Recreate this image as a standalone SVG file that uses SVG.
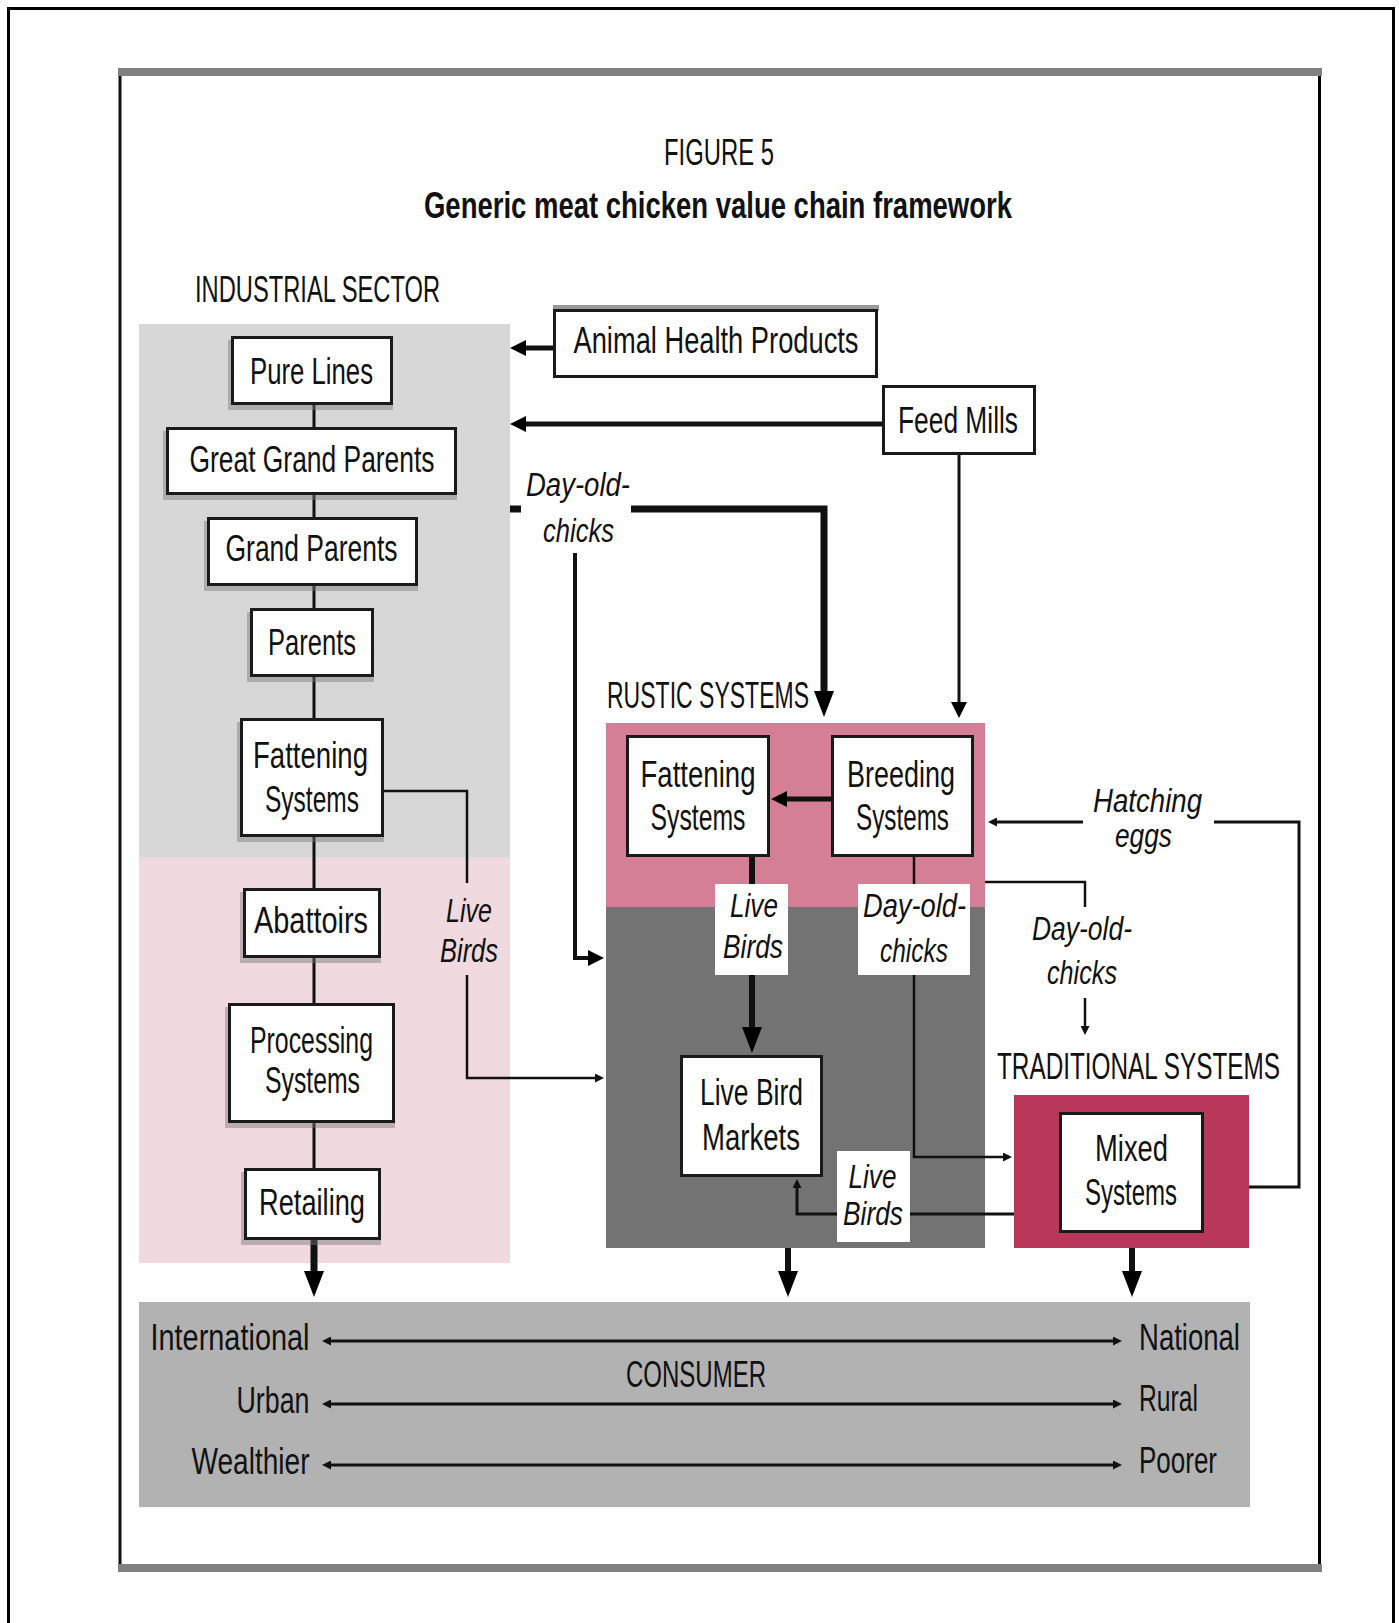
<svg xmlns="http://www.w3.org/2000/svg" width="1399" height="1623" viewBox="0 0 1399 1623">
<defs>
<style>
.t{font-family:"Liberation Sans Narrow","Liberation Sans",Arial,sans-serif;font-size:36px;fill:#111;text-anchor:middle}
.i{font-style:italic;font-size:34px}
.c{font-size:37px}
.box{fill:#fff;stroke:#1a1a1a;stroke-width:3}
.sh{fill:#777;opacity:.45}
.ln{fill:none;stroke:#111}
.lbl{fill:#fff}
</style>
<marker id="big" markerUnits="userSpaceOnUse" markerWidth="26" markerHeight="20" refX="13" refY="10" orient="auto"><path d="M0,0 L26,10 L0,20 z" fill="#000"/></marker>
<marker id="med" markerUnits="userSpaceOnUse" markerWidth="16" markerHeight="16" refX="8" refY="8" orient="auto"><path d="M0,0 L16,8 L0,16 z" fill="#000"/></marker>
<marker id="sm" markerUnits="userSpaceOnUse" markerWidth="9" markerHeight="9" refX="4.5" refY="4.5" orient="auto-start-reverse"><path d="M0,0 L9,4.5 L0,9 z" fill="#111"/></marker>
</defs>

<g id="frame">
<rect x="8.5" y="8.5" width="1385" height="1630" fill="none" stroke="#000" stroke-width="3"/>
<line x1="120" y1="72" x2="120" y2="1568" stroke="#111" stroke-width="3"/>
<line x1="1319.5" y1="72" x2="1319.5" y2="1568" stroke="#000" stroke-width="3"/>
<rect x="118" y="68" width="1204" height="8" fill="#808080"/>
<rect x="118" y="1564" width="1204" height="8" fill="#808080"/>
</g>

<g id="regions">
<rect x="139" y="324" width="371" height="533" fill="#d7d7d7"/>
<rect x="139" y="857" width="371" height="406" fill="#f0d9df"/>
<rect x="606" y="723" width="379" height="184" fill="#d47f95"/>
<rect x="606" y="907" width="379" height="341" fill="#737373"/>
<rect x="1014" y="1095" width="235" height="153" fill="#b9375b"/>
<rect x="139" y="1302" width="1111" height="205" fill="#b2b2b2"/>
</g>

<g id="headings">
<text class="t" x="719" y="165" font-size="35" textLength="110" lengthAdjust="spacingAndGlyphs">FIGURE 5</text>
<text class="t" x="718" y="218" font-weight="bold" textLength="588" lengthAdjust="spacingAndGlyphs">Generic meat chicken value chain framework</text>
<text class="t" x="317.5" y="302" textLength="245" lengthAdjust="spacingAndGlyphs">INDUSTRIAL SECTOR</text>
<text class="t" x="708" y="708" textLength="202" lengthAdjust="spacingAndGlyphs">RUSTIC SYSTEMS</text>
<text class="t" x="1138.5" y="1079" textLength="283" lengthAdjust="spacingAndGlyphs">TRADITIONAL SYSTEMS</text>
<text class="t" x="696" y="1387" textLength="140" lengthAdjust="spacingAndGlyphs">CONSUMER</text>
</g>

<g id="connectors">
<path class="ln" d="M314,405 V1168" stroke-width="3"/>
<path class="ln" d="M314,1240 V1284" stroke-width="7" marker-end="url(#big)"/>
<path class="ln" d="M553,348 H518" stroke-width="5" marker-end="url(#med)"/>
<path class="ln" d="M882,424 H518" stroke-width="5" marker-end="url(#med)"/>
<path class="ln" d="M959,455 V710" stroke-width="3" marker-end="url(#med)"/>
<path class="ln" d="M510,509 H521" stroke-width="7"/>
<path class="ln" d="M631,509 H824 V704" stroke-width="7" marker-end="url(#big)"/>
<path class="ln" d="M575,553 V958 H596" stroke-width="4" marker-end="url(#med)"/>
<path class="ln" d="M384,791 H467 V883 M467,975 V1078 H510" stroke="#555" stroke-width="2.5"/>
<path class="ln" d="M510,1078 H599.5" stroke="#999" stroke-width="2.5" marker-end="url(#sm)"/>
<path class="ln" d="M831,799 H779" stroke-width="5" marker-end="url(#med)"/>
<path class="ln" d="M752,857 V884 M752,975 V1040" stroke-width="6" marker-end="url(#big)"/>
<path class="ln" d="M914,857 V884 M914,975 V1157 H1007.5" stroke="#333" stroke-width="2.5" marker-end="url(#sm)"/>
<path class="ln" d="M1014,1214 H985" stroke="#aaa" stroke-width="3"/>
<path class="ln" d="M985,1214 H910 M837,1214 H797 V1183.5" stroke="#444" stroke-width="3" marker-end="url(#sm)"/>
<path class="ln" d="M1249,1187 H1299 V822 H1214 M1083,822 H992.5" stroke="#777" stroke-width="3" marker-end="url(#sm)"/>
<path class="ln" d="M985,882 H1085 V907 M1085,998 V1030.5" stroke="#666" stroke-width="2.5" marker-end="url(#sm)"/>
<path class="ln" d="M788,1248 V1284" stroke-width="6" marker-end="url(#big)"/>
<path class="ln" d="M1132,1248 V1284" stroke-width="6" marker-end="url(#big)"/>
<path class="ln" d="M326.5,1341 H1117.5" stroke="#444" stroke-width="3" marker-start="url(#sm)" marker-end="url(#sm)"/>
<path class="ln" d="M326.5,1404 H1117.5" stroke="#444" stroke-width="3" marker-start="url(#sm)" marker-end="url(#sm)"/>
<path class="ln" d="M326.5,1465 H1117.5" stroke="#444" stroke-width="3" marker-start="url(#sm)" marker-end="url(#sm)"/>
<rect class="lbl" x="715" y="884" width="73" height="91"/>
<rect class="lbl" x="858" y="884" width="112" height="91"/>
<rect class="lbl" x="837" y="1151" width="73" height="91"/>
<text class="t i" x="578" y="496" textLength="104" lengthAdjust="spacingAndGlyphs">Day-old-</text>
<text class="t i" x="578.5" y="542" textLength="71" lengthAdjust="spacingAndGlyphs">chicks</text>
<text class="t i" x="469" y="922" textLength="46" lengthAdjust="spacingAndGlyphs">Live</text>
<text class="t i" x="469" y="962" textLength="58" lengthAdjust="spacingAndGlyphs">Birds</text>
<text class="t i" x="754" y="917" textLength="48" lengthAdjust="spacingAndGlyphs">Live</text>
<text class="t i" x="753" y="958" textLength="60" lengthAdjust="spacingAndGlyphs">Birds</text>
<text class="t i" x="914.5" y="917" textLength="103" lengthAdjust="spacingAndGlyphs">Day-old-</text>
<text class="t i" x="914" y="962" textLength="68" lengthAdjust="spacingAndGlyphs">chicks</text>
<text class="t i" x="872.5" y="1188" textLength="48" lengthAdjust="spacingAndGlyphs">Live</text>
<text class="t i" x="873" y="1225" textLength="60" lengthAdjust="spacingAndGlyphs">Birds</text>
<text class="t i" x="1147.5" y="812" textLength="109" lengthAdjust="spacingAndGlyphs">Hatching</text>
<text class="t i" x="1143.5" y="847" textLength="57" lengthAdjust="spacingAndGlyphs">eggs</text>
<text class="t i" x="1082" y="940" textLength="100" lengthAdjust="spacingAndGlyphs">Day-old-</text>
<text class="t i" x="1082" y="984" textLength="70" lengthAdjust="spacingAndGlyphs">chicks</text>
</g>

<g id="node-pure-lines"><rect class="sh" x="228" y="340" width="165" height="70"/><rect class="box" x="232.5" y="337.5" width="159" height="66"/><text class="t" x="311.5" y="384" textLength="123" lengthAdjust="spacingAndGlyphs">Pure Lines</text></g>
<g id="node-great-grand-parents"><rect class="sh" x="163" y="431" width="294" height="69"/><rect class="box" x="167.5" y="428.5" width="288" height="65"/><text class="t" x="312" y="472" textLength="245" lengthAdjust="spacingAndGlyphs">Great Grand Parents</text></g>
<g id="node-grand-parents"><rect class="sh" x="204" y="521" width="214" height="70"/><rect class="box" x="208.5" y="518.5" width="208" height="66"/><text class="t" x="311.5" y="561" textLength="172" lengthAdjust="spacingAndGlyphs">Grand Parents</text></g>
<g id="node-parents"><rect class="sh" x="247" y="612" width="127" height="70"/><rect class="box" x="251.5" y="609.5" width="121" height="66"/><text class="t" x="312" y="655" textLength="88" lengthAdjust="spacingAndGlyphs">Parents</text></g>
<g id="node-fattening-industrial"><rect class="sh" x="237" y="722" width="147" height="120"/><rect class="box" x="241.5" y="719.5" width="141" height="116"/><text class="t" x="310.5" y="768" textLength="115" lengthAdjust="spacingAndGlyphs">Fattening</text><text class="t" x="312" y="812" textLength="94" lengthAdjust="spacingAndGlyphs">Systems</text></g>
<g id="node-abattoirs"><rect class="sh" x="240" y="892" width="141" height="71"/><rect class="box" x="244.5" y="889.5" width="135" height="67"/><text class="t" x="311" y="933" textLength="114" lengthAdjust="spacingAndGlyphs">Abattoirs</text></g>
<g id="node-processing"><rect class="sh" x="225" y="1007" width="170" height="121"/><rect class="box" x="229.5" y="1004.5" width="164" height="117"/><text class="t" x="311.5" y="1053" textLength="123" lengthAdjust="spacingAndGlyphs">Processing</text><text class="t" x="312.5" y="1093" textLength="95" lengthAdjust="spacingAndGlyphs">Systems</text></g>
<g id="node-retailing"><rect class="sh" x="241" y="1172" width="140" height="73"/><rect class="box" x="245.5" y="1169.5" width="134" height="69"/><text class="t" x="312" y="1215" textLength="106" lengthAdjust="spacingAndGlyphs">Retailing</text></g>
<g id="node-animal-health"><rect x="553" y="305" width="326" height="6" fill="#999"/><rect class="box" x="554.5" y="310.5" width="322" height="66"/><text class="t" x="716" y="353" textLength="285" lengthAdjust="spacingAndGlyphs">Animal Health Products</text></g>
<g id="node-feed-mills"><rect class="box" x="883.5" y="386.5" width="151" height="67"/><text class="t" x="958" y="433" textLength="120" lengthAdjust="spacingAndGlyphs">Feed Mills</text></g>
<g id="node-fattening-rustic"><rect class="box" x="627.5" y="736.5" width="141" height="119"/><text class="t" x="698" y="787" textLength="115" lengthAdjust="spacingAndGlyphs">Fattening</text><text class="t" x="698" y="830" textLength="95" lengthAdjust="spacingAndGlyphs">Systems</text></g>
<g id="node-breeding"><rect class="box" x="832.5" y="736.5" width="140" height="119"/><text class="t" x="901" y="787" textLength="108" lengthAdjust="spacingAndGlyphs">Breeding</text><text class="t" x="902.5" y="830" textLength="93" lengthAdjust="spacingAndGlyphs">Systems</text></g>
<g id="node-live-bird-markets"><rect class="box" x="681.5" y="1056.5" width="140" height="119"/><text class="t" x="751.5" y="1105" textLength="103" lengthAdjust="spacingAndGlyphs">Live Bird</text><text class="t" x="751" y="1150" textLength="98" lengthAdjust="spacingAndGlyphs">Markets</text></g>
<g id="node-mixed"><rect class="box" x="1060.5" y="1113.5" width="142" height="118"/><text class="t" x="1131.5" y="1161" textLength="73" lengthAdjust="spacingAndGlyphs">Mixed</text><text class="t" x="1131" y="1205" textLength="92" lengthAdjust="spacingAndGlyphs">Systems</text></g>

<g id="consumer-labels">
<text class="t c" x="309.5" y="1350" text-anchor="end" style="text-anchor:end" textLength="159" lengthAdjust="spacingAndGlyphs">International</text>
<text class="t c" x="309.5" y="1413" style="text-anchor:end" textLength="73" lengthAdjust="spacingAndGlyphs">Urban</text>
<text class="t c" x="309.5" y="1474" style="text-anchor:end" textLength="118" lengthAdjust="spacingAndGlyphs">Wealthier</text>
<text class="t c" x="1139" y="1350" style="text-anchor:start" textLength="101" lengthAdjust="spacingAndGlyphs">National</text>
<text class="t c" x="1139" y="1411" style="text-anchor:start" textLength="59" lengthAdjust="spacingAndGlyphs">Rural</text>
<text class="t c" x="1139" y="1473" style="text-anchor:start" textLength="78" lengthAdjust="spacingAndGlyphs">Poorer</text>
</g>
</svg>
